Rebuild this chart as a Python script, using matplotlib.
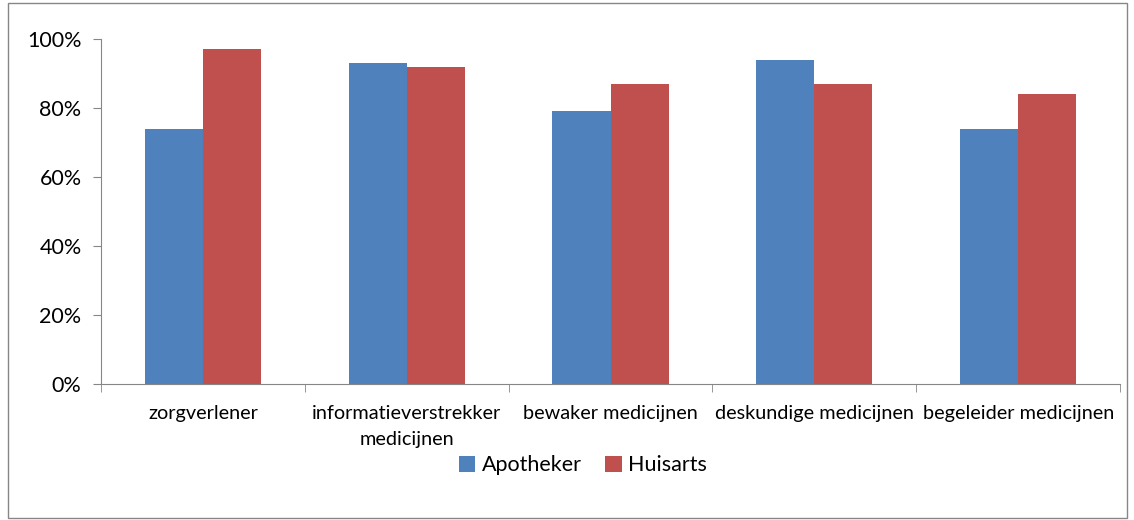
import numpy as np
import matplotlib.pyplot as plt
from matplotlib.patches import Rectangle

categories = ['zorgverlener', 'informatieverstrekker\nmedicijnen', 'bewaker medicijnen',
              'deskundige medicijnen', 'begeleider medicijnen']
apotheker = [74, 93, 79, 94, 74]
huisarts = [97, 92, 87, 87, 84]
yticks = [0, 20, 40, 60, 80, 100]
ytick_labels = ['0%', '20%', '40%', '60%', '80%', '100%']

plt.rcParams['font.family'] = ['Lato', 'DejaVu Sans']

fig = plt.figure(figsize=(11.34, 5.2), dpi=100)
ax = fig.add_axes([0.0891, 0.2615, 0.8986, 0.6635])

x = np.arange(len(categories))
w = 0.285
ax.bar(x - w / 2, apotheker, w, color='#4F81BD', label='Apotheker')
ax.bar(x + w / 2, huisarts, w, color='#C0504D', label='Huisarts')

ax.set_xlim(-0.5, len(categories) - 0.5)
ax.set_ylim(0, 100)
ax.set_yticks(yticks)
ax.set_yticklabels(ytick_labels, fontsize=15.5)
ax.set_xticks(x)
ax.set_xticklabels(categories, fontsize=14.3, linespacing=1.65)
ax.tick_params(axis='x', which='major', length=0, pad=15)
ax.set_xticks(np.arange(-0.5, len(categories)), minor=True)
ax.tick_params(axis='x', which='minor', length=6, color='#868686')
ax.tick_params(axis='y', length=6, color='#868686', pad=8)

for s in ['top', 'right']:
    ax.spines[s].set_visible(False)
for s in ['left', 'bottom']:
    ax.spines[s].set_color('#868686')

ax.legend(loc='center', bbox_to_anchor=(0.473, -0.236), ncol=2, frameon=False,
          fontsize=15.5, handlelength=0.75, handleheight=0.75, handletextpad=0.3,
          columnspacing=1.1)

fig.patches.append(Rectangle((8 / 1134, 2 / 520), 1119 / 1134, 515 / 520,
                             transform=fig.transFigure, fill=False,
                             edgecolor='#868686', linewidth=1))

fig.savefig('out.png', dpi=100)
